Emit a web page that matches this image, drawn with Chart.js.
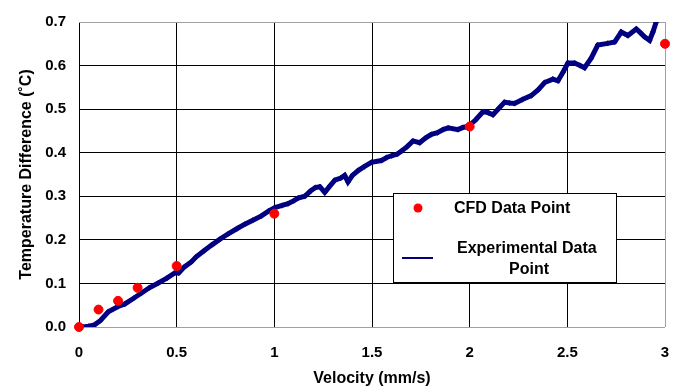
<!DOCTYPE html>
<html>
<head>
<meta charset="utf-8">
<script src="https://cdn.jsdelivr.net/npm/chart.js@4"></script>
<style>
  body { margin: 0; background: #fff; }
</style>
</head>
<body>
<canvas id="myChart" width="690" height="391"></canvas>
<script>
// CFD points
var cfdVelocity = [0, 0.1, 0.2, 0.3, 0.5, 1, 2, 3];
var cfdTemp = [0, 0.04, 0.06, 0.09, 0.14, 0.26, 0.46, 0.65];

// experimental trace
var expVelocity = [0.02, 0.05, 0.08, 0.11, 0.15, 0.2, 0.235, 0.28, 0.32, 0.36, 0.406, 0.45, 0.49, 0.51, 0.54, 0.576,
  0.6, 0.64, 0.679, 0.72, 0.764, 0.81, 0.849, 0.89, 0.934, 0.97, 1.003, 1.04, 1.07, 1.1, 1.122, 1.156, 1.185, 1.21,
  1.233, 1.258, 1.285, 1.31, 1.34, 1.36, 1.377, 1.4, 1.429, 1.46, 1.497, 1.548, 1.575, 1.6, 1.63, 1.651, 1.68, 1.71,
  1.744, 1.775, 1.804, 1.835, 1.864, 1.89, 1.94, 1.965, 1.991, 2.03, 2.068, 2.095, 2.119, 2.15, 2.179, 2.205, 2.23,
  2.27, 2.315, 2.35, 2.384, 2.426, 2.452, 2.477, 2.503, 2.537, 2.565, 2.588, 2.622, 2.656, 2.707, 2.742, 2.776, 2.81,
  2.853, 2.875, 2.895, 2.921, 2.938, 2.955];
var expTemp = [0.0, 0.002, 0.005, 0.015, 0.035, 0.047, 0.053, 0.066, 0.078, 0.09, 0.101, 0.112, 0.124, 0.124, 0.138, 0.15,
  0.161, 0.175, 0.188, 0.201, 0.214, 0.226, 0.236, 0.245, 0.255, 0.266, 0.274, 0.279, 0.283, 0.29, 0.296, 0.3, 0.312, 0.32,
  0.322, 0.309, 0.324, 0.337, 0.342, 0.348, 0.333, 0.348, 0.359, 0.368, 0.378, 0.382, 0.389, 0.393, 0.397, 0.404, 0.414, 0.427,
  0.423, 0.434, 0.442, 0.446, 0.453, 0.457, 0.453, 0.458, 0.46, 0.475, 0.494, 0.492, 0.487, 0.502, 0.516, 0.514, 0.513,
  0.522, 0.531, 0.544, 0.561, 0.569, 0.565, 0.584, 0.606, 0.606, 0.6, 0.595, 0.617, 0.647, 0.651, 0.654, 0.677, 0.669,
  0.684, 0.675, 0.666, 0.658, 0.677, 0.7];

var xTicks = [0, 0.5, 1, 1.5, 2, 2.5, 3];
var yTicks = [0, 0.1, 0.2, 0.3, 0.4, 0.5, 0.6, 0.7];

var legendLabels = ['CFD Data Point', 'Experimental Data', 'Point'];

function toPoints(xs, ys) {
  var pts = [];
  for (var i = 0; i < xs.length; i++) pts.push({ x: xs[i], y: ys[i] });
  return pts;
}

var fam = 'Liberation Sans, Arial, sans-serif';
var tickFont = { family: fam, size: 15, weight: 'bold' };
var titleFont = { family: fam, size: 16, weight: 'bold' };

// legend box drawn by hand, like the excel one
var boxLegend = {
  id: 'boxLegend',
  afterDraw: function (chart) {
    var c = chart.ctx;
    c.save();
    c.fillStyle = '#fff';
    c.fillRect(393, 193, 223, 89);
    c.strokeStyle = '#000';
    c.lineWidth = 1;
    c.strokeRect(393.5, 193.5, 223, 89);

    c.fillStyle = '#ff0000';
    c.beginPath();
    c.arc(418, 208, 4.5, 0, Math.PI * 2);
    c.fill();

    c.strokeStyle = '#000080';
    c.lineWidth = 2;
    c.beginPath();
    c.moveTo(402, 258);
    c.lineTo(433, 258);
    c.stroke();

    c.fillStyle = '#000';
    c.font = 'bold 16px ' + fam;
    c.textBaseline = 'middle';
    c.textAlign = 'left';
    c.fillText(legendLabels[0], 454, 209);
    c.fillText(legendLabels[1], 457, 249);
    c.textAlign = 'center';
    c.fillText(legendLabels[2], 529, 270);
    c.restore();
  }
};

var ctx = document.getElementById('myChart').getContext('2d');
var myChart = new Chart(ctx, {
  type: 'scatter',
  data: {
    datasets: [{
      label: legendLabels[0],
      data: toPoints(cfdVelocity, cfdTemp),
      backgroundColor: '#ff0000',
      borderColor: '#ff0000',
      pointRadius: 4.5,
      pointHoverRadius: 4.5,
      clip: false
    }, {
      label: 'Experimental Data Point',
      data: toPoints(expVelocity, expTemp),
      showLine: true,
      borderColor: '#000080',
      backgroundColor: '#000080',
      borderWidth: 5,
      pointStyle: 'rectRot',
      pointRadius: 3,
      pointBorderWidth: 0,
      tension: 0
    }]
  },
  options: {
    responsive: false,
    animation: false,
    layout: { padding: { top: 15, right: 25, left: 0, bottom: 0 } },
    plugins: {
      legend: { display: false },
      tooltip: { enabled: false }
    },
    scales: {
      x: {
        type: 'linear',
        min: 0,
        max: 3,
        afterBuildTicks: function (axis) {
          axis.ticks = xTicks.map(function (v) { return { value: v }; });
        },
        afterFit: function (axis) { axis.height = 64; },
        border: { display: false },
        grid: {
          drawTicks: false,
          color: function (c) { return c.tick && c.tick.value == 3 ? '#a0a0a0' : '#000'; }
        },
        ticks: {
          padding: 17,
          color: '#000',
          font: tickFont,
          maxRotation: 0,
          callback: function (v) { return String(v); }
        },
        title: {
          display: true,
          text: 'Velocity (mm/s)',
          color: '#000',
          font: titleFont,
          padding: { top: 0, bottom: 3 }
        }
      },
      y: {
        min: 0,
        max: 0.7,
        afterBuildTicks: function (axis) {
          axis.ticks = yTicks.map(function (v) { return { value: v }; });
        },
        afterFit: function (axis) { axis.width = 79; },
        border: { display: false },
        grid: {
          drawTicks: false,
          color: function (c) {
            if (!c.tick) return '#000';
            return (c.tick.value == 0 || c.tick.value == 0.7) ? '#a0a0a0' : '#000';
          }
        },
        ticks: {
          padding: 13,
          color: '#000',
          font: tickFont,
          callback: function (v) { return Number(v).toFixed(1); }
        },
        title: {
          display: true,
          text: 'Temperature Difference (˚C)',
          color: '#000',
          font: titleFont,
          padding: { top: 17, bottom: 0 }
        }
      }
    }
  },
  plugins: [boxLegend]
});
</script>
</body>
</html>
